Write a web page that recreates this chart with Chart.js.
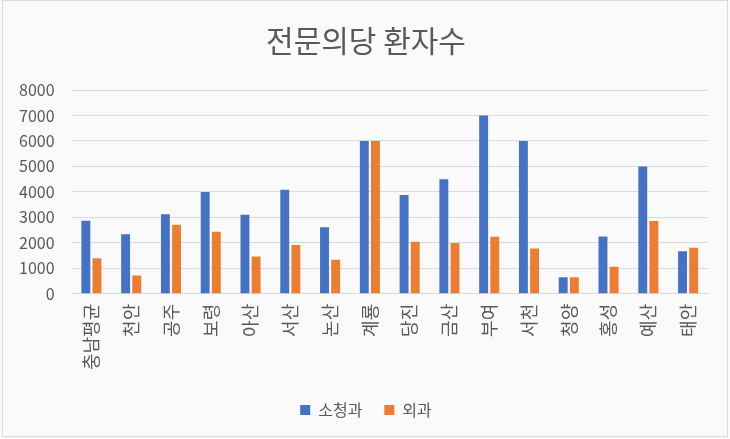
<!DOCTYPE html>
<html>
<head>
<meta charset="utf-8">
<script src="https://cdn.jsdelivr.net/npm/chart.js@4"></script>
<style>
  html, body { margin: 0; padding: 0; background: #fafafa; }
  #frame {
    position: absolute; left: 2px; top: 0; width: 724px; height: 435px;
    border: 1px solid #d9d9d9; box-sizing: content-box;
  }
  #wrap { position: absolute; left: 0; top: 0; width: 730px; height: 439px; }
</style>
</head>
<body>
<div id="frame"></div>
<div id="wrap"><canvas id="chart" width="730" height="439"></canvas></div>
<script>
// data
const categories = ['충남평균', '천안', '공주', '보령', '아산', '서산', '논산', '계룡',
  '당진', '금산', '부여', '서천', '청양', '홍성', '예산', '태안'];
const pediatrics = [2870, 2340, 3125, 4000, 3100, 4080, 2615, 6000,
  3880, 4500, 7000, 6000, 650, 2245, 5000, 1670];
const surgery = [1390, 720, 2710, 2430, 1465, 1910, 1335, 6000,
  2040, 1990, 2235, 1780, 650, 1060, 2860, 1805];
const seriesNames = ['소청과', '외과'];
const yTicks = [0, 1000, 2000, 3000, 4000, 5000, 6000, 7000, 8000];

const FONT = '"Noto Sans CJK KR", "Noto Sans", sans-serif';
const TEXT = '#595959';

new Chart(document.getElementById('chart'), {
  type: 'bar',
  data: {
    labels: categories,
    datasets: [
      { label: seriesNames[0], data: pediatrics, backgroundColor: '#4472c4' },
      { label: seriesNames[1], data: surgery, backgroundColor: '#ed7d31' }
    ]
  },
  options: {
    responsive: false,
    animation: false,
    devicePixelRatio: 1,
    categoryPercentage: 0.56,
    barPercentage: 0.8,
    layout: { padding: { left: 2, right: 0, top: 13, bottom: 11 } },
    scales: {
      x: {
        grid: { display: false, drawTicks: false },
        border: { color: '#d9d9d9' },
        ticks: {
          color: TEXT, font: { family: FONT, size: 18 },
          minRotation: 90, maxRotation: 90, padding: 10, autoSkip: false
        }
      },
      y: {
        min: 0, max: 8000,
        afterBuildTicks: (axis) => { axis.ticks = yTicks.map(v => ({ value: v })); },
        grid: { color: '#d9d9d9', drawTicks: false },
        border: { display: false },
        ticks: {
          color: TEXT, font: { family: FONT, size: 16 }, padding: 17,
          callback: (v) => String(v)
        }
      },
      // empty right-hand spacer so the title and legend stay centred on the canvas
      spacer: {
        type: 'linear', position: 'right',
        grid: { display: false, drawTicks: false },
        border: { display: false },
        ticks: { display: false },
        afterFit: (axis) => { axis.width = 22; }
      }
    },
    plugins: {
      title: {
        display: true, text: '전문의당 환자수', color: TEXT,
        font: { family: FONT, size: 30, weight: 'normal' },
        padding: { top: 10, bottom: 31 }
      },
      legend: {
        position: 'bottom',
        labels: {
          color: TEXT, font: { family: FONT, size: 16 },
          boxWidth: 10, boxHeight: 10, padding: 22
        }
      },
      tooltip: { enabled: false }
    }
  }
});
</script>
</body>
</html>
